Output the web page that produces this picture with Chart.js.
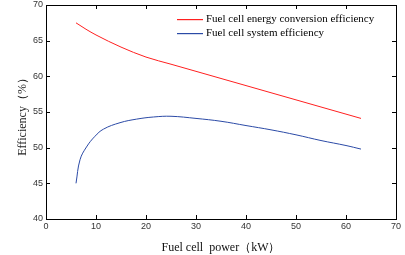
<!DOCTYPE html>
<html>
<head>
<meta charset="utf-8">
<script src="https://cdn.jsdelivr.net/npm/chart.js@4"></script>
<style>
  html, body { margin: 0; padding: 0; background: #fff; }
  #wrap { width: 405px; height: 255px; }
</style>
</head>
<body>
<div id="wrap"><canvas id="myChart" width="405" height="255"></canvas></div>
<script>
// data
const powerRed = [6, 8, 10, 15, 20, 25, 30, 35, 40, 45, 50, 55, 60, 63];
const conversionEff = [67.5, 66.6, 65.8, 64.1, 62.7, 61.7, 60.7, 59.7, 58.7, 57.7, 56.7, 55.7, 54.7, 54.1];

const powerBlue = [6, 6.8, 8.1, 9.8, 11.5, 14.8, 18.1, 21.5, 25, 30, 35, 40, 45, 50, 55, 60, 63];
const systemEff = [45.0, 48.3, 50.1, 51.6, 52.6, 53.5, 54.0, 54.3, 54.4, 54.1, 53.7, 53.1, 52.5, 51.8, 51.0, 50.3, 49.8];

const xTicks = [0, 10, 20, 30, 40, 50, 60, 70];
const yTicks = [40, 45, 50, 55, 60, 65, 70];

const labels = ["Fuel cell energy conversion efficiency", "Fuel cell system efficiency"];
const lineColors = ["#ff2020", "#2b4aa6"];
const yTitle = "Efficiency（%）";
const xTitle = "Fuel cell  power（kW）";

const toPoints = (xs, ys) => xs.map((x, i) => ({ x: x, y: ys[i] }));

// box + inward ticks on all sides, legend inside top right, y title
const boxPlugin = {
  id: "boxPlugin",
  afterDraw(chart) {
    const ctx = chart.ctx;
    const a = chart.chartArea;
    const xs = chart.scales.x;
    const ys = chart.scales.y;
    ctx.save();
    ctx.strokeStyle = "#000";
    ctx.lineWidth = 1;
    ctx.strokeRect(a.left + 0.5, a.top + 0.5, a.right - a.left, a.bottom - a.top);
    ctx.beginPath();
    xTicks.forEach((v) => {
      const px = Math.round(xs.getPixelForValue(v)) + 0.5;
      ctx.moveTo(px, a.bottom);
      ctx.lineTo(px, a.bottom - 4);
      ctx.moveTo(px, a.top);
      ctx.lineTo(px, a.top + 4);
    });
    yTicks.forEach((v) => {
      const py = Math.round(ys.getPixelForValue(v)) + 0.5;
      ctx.moveTo(a.left, py);
      ctx.lineTo(a.left + 4, py);
      ctx.moveTo(a.right, py);
      ctx.lineTo(a.right - 4, py);
    });
    ctx.stroke();

    // legend
    ctx.font = "11px 'Liberation Serif'";
    ctx.textBaseline = "middle";
    ctx.fillStyle = "#000";
    labels.forEach((txt, i) => {
      const y = 19 + i * 14;
      ctx.fillStyle = lineColors[i];
      ctx.fillRect(177, y, 26, 1.2);
      ctx.fillStyle = "#000";
      ctx.fillText(txt, 206, y);
    });

    // y title
    ctx.translate(23, (a.top + a.bottom) / 2 + 2);
    ctx.rotate(-Math.PI / 2);
    ctx.font = "12px 'Liberation Serif'";
    ctx.textAlign = "center";
    ctx.fillStyle = "#222";
    ctx.fillText(yTitle, 0, 0);
    ctx.restore();
  },
};

const ctx = document.getElementById("myChart").getContext("2d");

new Chart(ctx, {
  type: "line",
  data: {
    datasets: [
      {
        label: labels[0],
        data: toPoints(powerRed, conversionEff),
        borderColor: lineColors[0],
        borderWidth: 1,
        pointRadius: 0,
        cubicInterpolationMode: "monotone",
        fill: false,
      },
      {
        label: labels[1],
        data: toPoints(powerBlue, systemEff),
        borderColor: lineColors[1],
        borderWidth: 1,
        pointRadius: 0,
        tension: 0.4,
        fill: false,
      },
    ],
  },
  options: {
    responsive: false,
    animation: false,
    layout: { padding: { left: 0, right: 9, top: 0, bottom: 0 } },
    plugins: {
      legend: { display: false },
      tooltip: { enabled: false },
    },
    scales: {
      x: {
        type: "linear",
        min: 0,
        max: 70,
        afterFit: (s) => { s.height = 36; },
        afterBuildTicks: (s) => { s.ticks = xTicks.map((v) => ({ value: v })); },
        grid: { display: false, drawTicks: false },
        border: { display: false },
        ticks: {
          padding: 2,
          color: "#333",
          font: { family: "'Liberation Sans'", size: 9 },
          maxRotation: 0,
        },
        title: {
          display: true,
          text: xTitle,
          color: "#111",
          font: { family: "'Liberation Serif'", size: 12 },
          padding: { top: 0, bottom: 0 },
        },
      },
      y: {
        min: 40,
        max: 70,
        afterFit: (s) => {
          s.width = 46;
          s.paddingTop = 5;
          s.paddingBottom = 0;
        },
        afterBuildTicks: (s) => { s.ticks = yTicks.map((v) => ({ value: v })); },
        grid: { display: false, drawTicks: false },
        border: { display: false },
        ticks: {
          padding: 3,
          color: "#333",
          font: { family: "'Liberation Sans'", size: 9 },
        },
        title: { display: false },
      },
    },
  },
  plugins: [boxPlugin],
});
</script>
</body>
</html>
